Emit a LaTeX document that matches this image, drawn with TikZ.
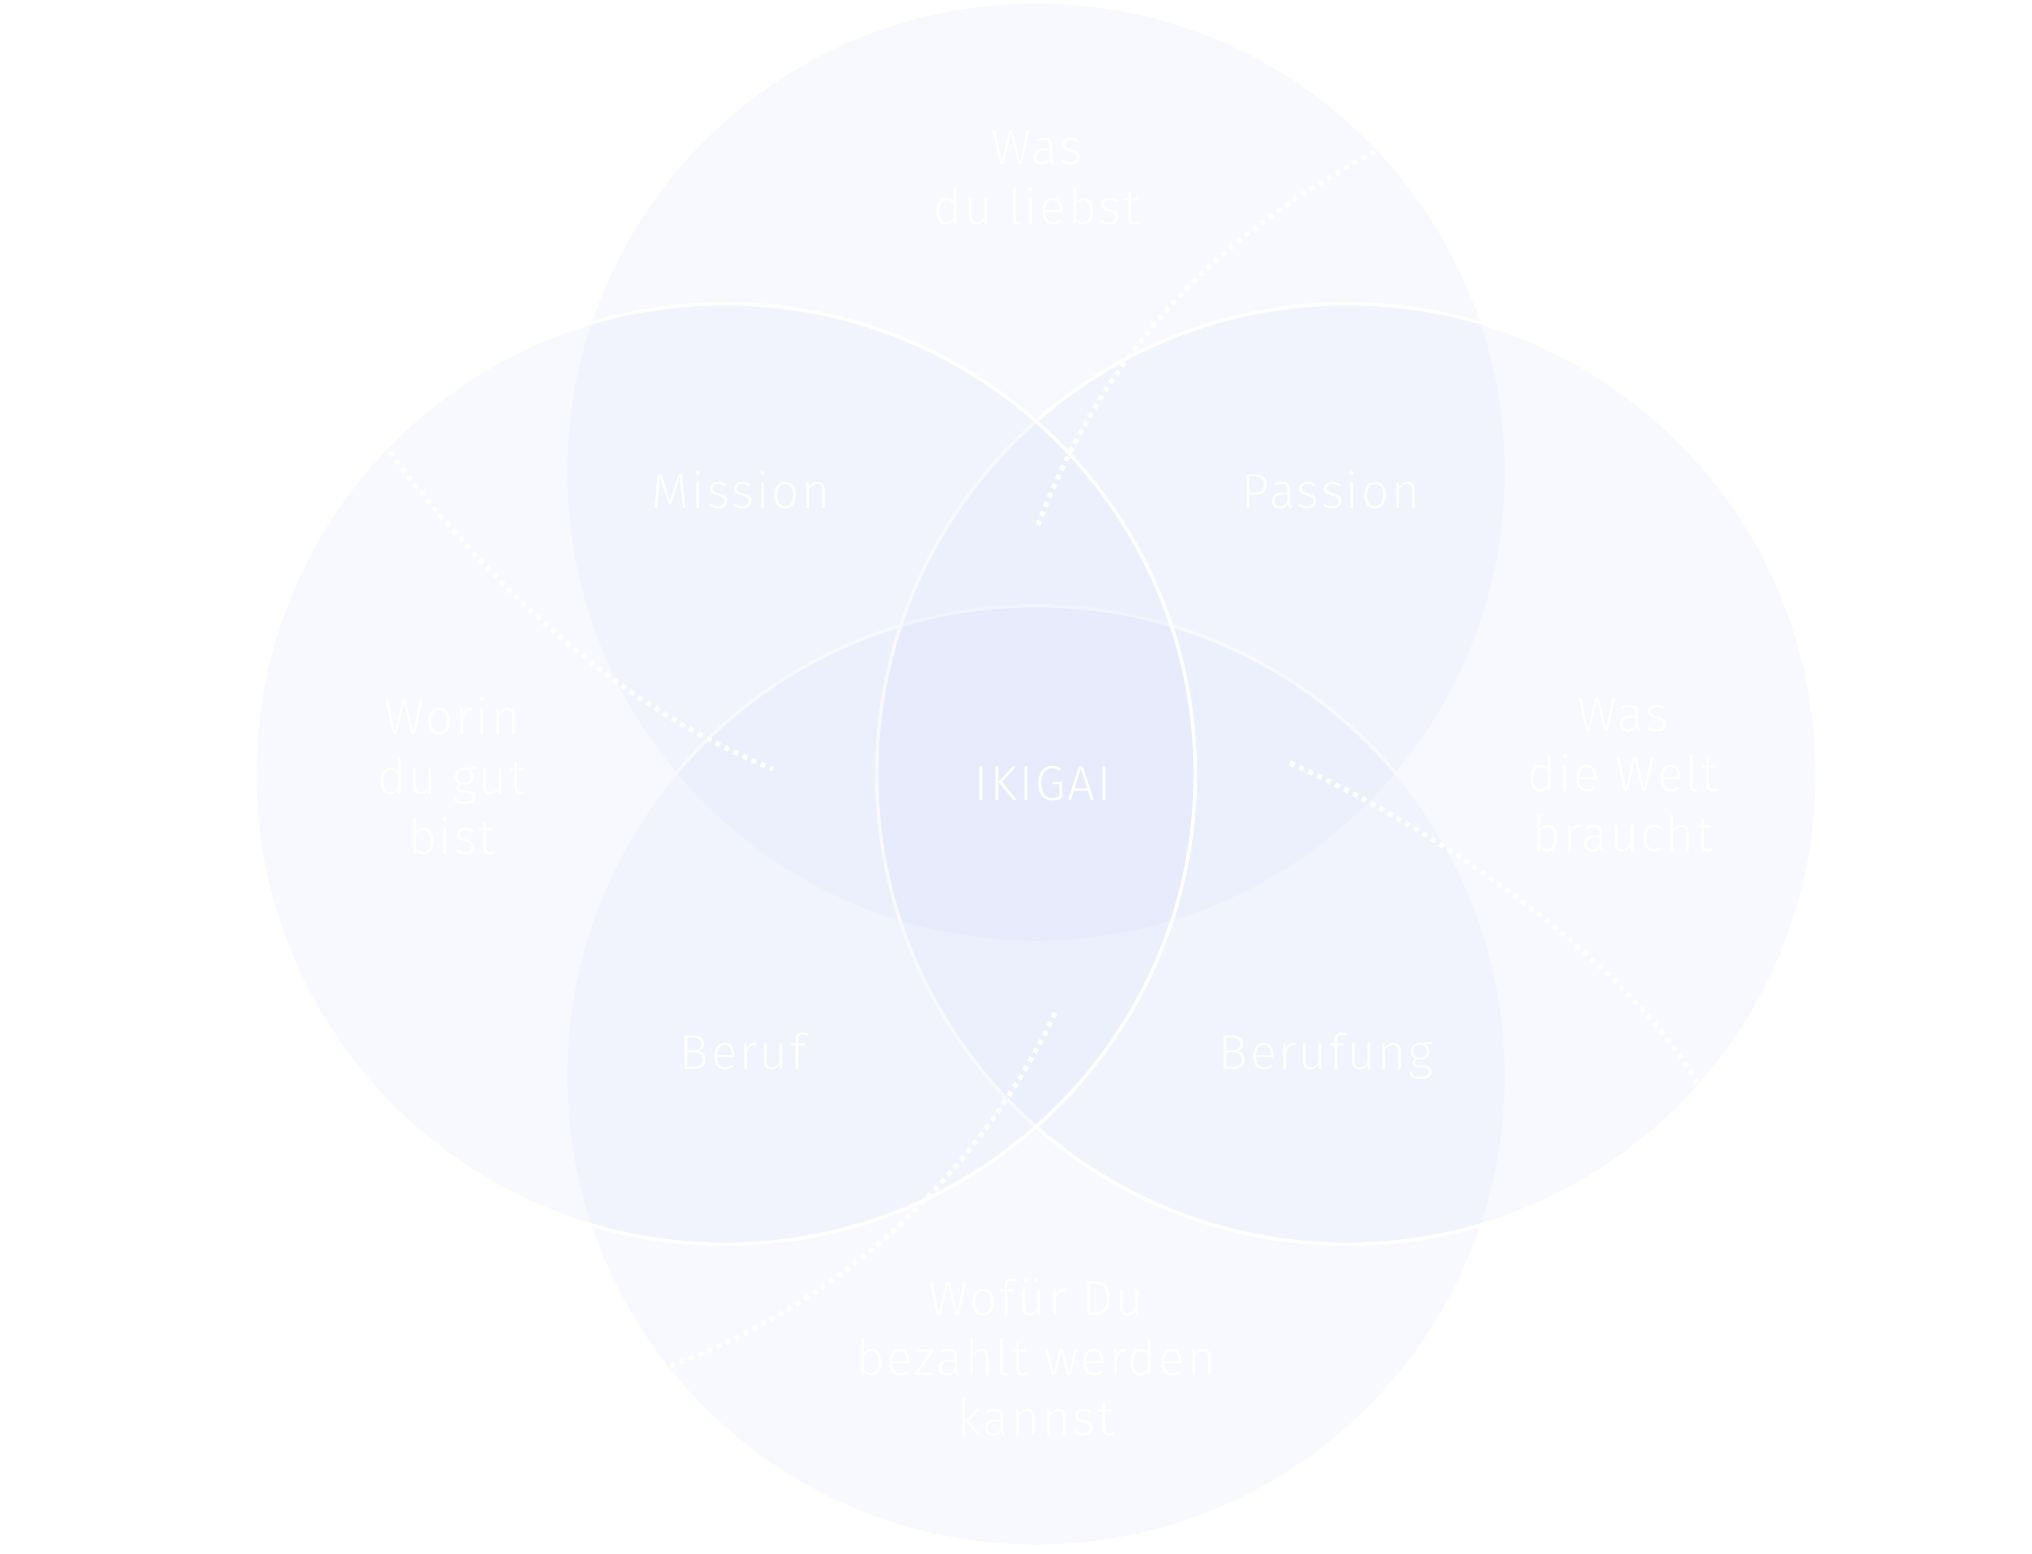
\documentclass[tikz,border=0pt]{standalone}
\usepackage{fontspec}
\setmainfont{Fira Sans Light}[LetterSpace=4]
\definecolor{ikifill}{RGB}{208,216,250}

\begin{document}
\begin{tikzpicture}[x=0.01cm,y=-0.01cm,
		ring/.style={circle,minimum size=9.4cm,inner sep=0pt,fill=ikifill,fill opacity=0.15,draw=white,line width=0.035cm},
		word/.style={text=white,inner sep=0pt,align=center,font=\fontsize{14}{17.07}\selectfont},
		dotline/.style={draw=white,line width=0.05cm,dash pattern=on 0.05cm off 0.05cm}]
		\fill[white] (0,0) rectangle (2032,1553); % page
		% the four circles
		\node[ring] (love) at (1036,472) {};
		\node[ring] (paid) at (1036,1076) {};
		\node[ring] (world) at (1347,774) {};
		\node[ring] (good) at (725,774) {};
		% outer labels
		\node[word,anchor=north] (lovetxt) at (1037,130) {Was\\du liebst};
		\node[word,anchor=north] (goodtxt) at (452,697) {Worin\\du gut\\bist};
		\node[word,anchor=north] (worldtxt) at (1623,697) {Was\\die Welt\\braucht};
		\node[word,anchor=north] (paidtxt) at (1036,1278) {Wofür Du\\bezahlt werden\\kannst};
		% overlaps
		\node[word,anchor=base] (mission) at (741,508) {Mission};
		\node[word,anchor=base] (passion) at (1331,508) {Passion};
		\node[word,anchor=base] (beruf) at (743,1069) {Beruf};
		\node[word,anchor=base] (berufung) at (1326,1069) {Berufung};
		\node[word,anchor=base] (ikigai) at (1043,800) {IKIGAI};
		% dotted guides
		\coordinate (d1a) at (1375,152); \coordinate (d1b) at (1038,525);
		\coordinate (d2a) at (390,452); \coordinate (d2b) at (773,769);
		\coordinate (d3a) at (1290,763); \coordinate (d3b) at (1700,1087);
		\coordinate (d4a) at (1055,1013); \coordinate (d4b) at (665,1368);
		\draw[dotline] (d1a) .. controls (1195,245) and (1095,375) .. (d1b);
		\draw[dotline] (d2a) .. controls (470,560) and (600,700) .. (d2b);
		\draw[dotline] (d3a) .. controls (1420,820) and (1620,950) .. (d3b);
		\draw[dotline] (d4a) .. controls (1000,1130) and (880,1290) .. (d4b);
	\end{tikzpicture}
\end{document}
